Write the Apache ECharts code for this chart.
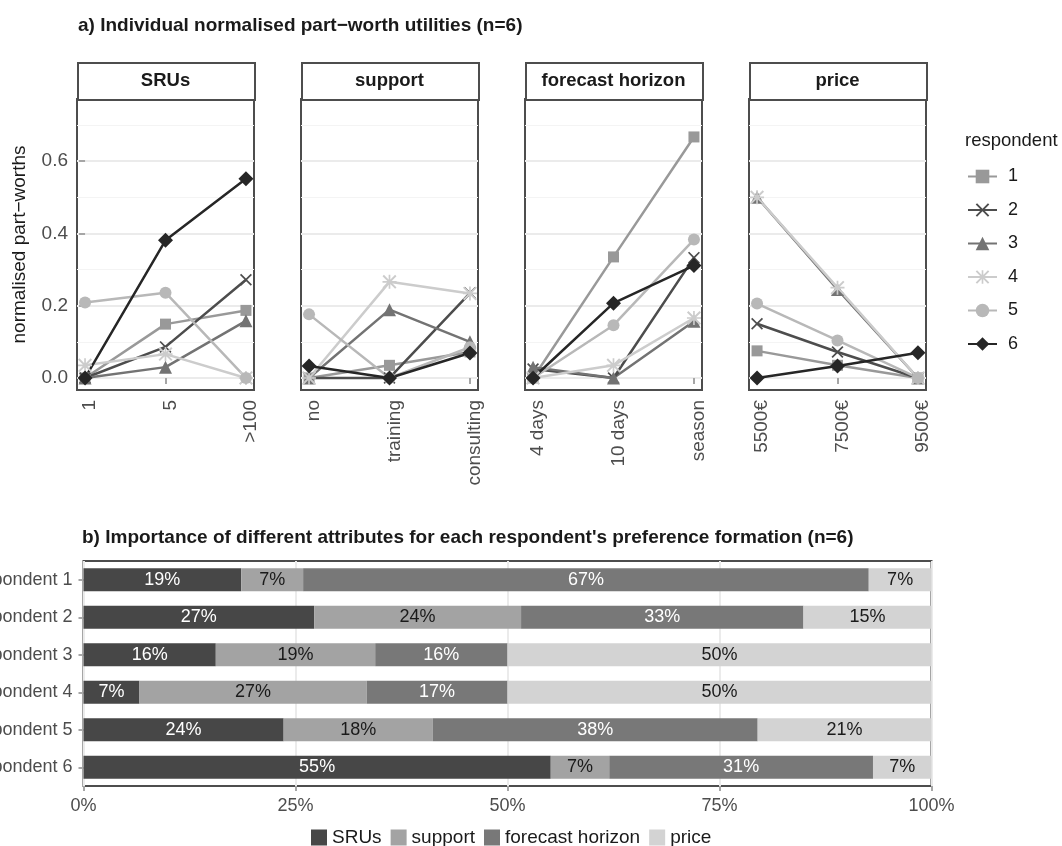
<!DOCTYPE html>
<html>
<head>
<meta charset="utf-8">
<script src="https://cdn.jsdelivr.net/npm/echarts@6/dist/echarts.min.js"></script>
<style>
  html, body { margin: 0; padding: 0; background: #fff; }
  #chart { width: 1062px; height: 846px; }
</style>
</head>
<body>
<div id="chart"></div>
<script>
// ---- a) part-worths ----
const panels = ['SRUs', 'support', 'forecast horizon', 'price'];
const levels = [
  ['1', '5', '>100'],
  ['no', 'training', 'consulting'],
  ['4 days', '10 days', 'season'],
  ['5500€', '7500€', '9500€'],
];
const respondents = ['1', '2', '3', '4', '5', '6'];
// normalised part-worths, one row per panel, one value per level
const pw1 = [[0, 0.149, 0.187], [0, 0.035, 0.072], [0, 0.335, 0.667], [0.075, 0.035, 0]];
const pw2 = [[0, 0.086, 0.272], [0, 0, 0.235], [0.025, 0, 0.333], [0.15, 0.072, 0]];
const pw3 = [[0, 0.03, 0.158], [0, 0.189, 0.1], [0.03, 0, 0.157], [0.5, 0.245, 0]];
const pw4 = [[0.035, 0.066, 0], [0, 0.266, 0.234], [0, 0.035, 0.166], [0.5, 0.25, 0]];
const pw5 = [[0.209, 0.236, 0], [0.176, 0, 0.085], [0, 0.146, 0.383], [0.206, 0.104, 0]];
const pw6 = [[0, 0.381, 0.551], [0.033, 0, 0.069], [0, 0.207, 0.311], [0, 0.033, 0.07]];
const partWorths = [pw1, pw2, pw3, pw4, pw5, pw6];
const yTicks = [0, 0.2, 0.4, 0.6];

// ---- b) importance ----
const barRespondents = ['Respondent 1', 'Respondent 2', 'Respondent 3', 'Respondent 4', 'Respondent 5', 'Respondent 6'];
const attributes = ['SRUs', 'support', 'forecast horizon', 'price'];
const impSRUs = [0.186, 0.272, 0.156, 0.066, 0.236, 0.551];
const impSupport = [0.073, 0.244, 0.188, 0.268, 0.176, 0.069];
const impForecast = [0.667, 0.333, 0.156, 0.166, 0.383, 0.311];
const impPrice = [0.074, 0.151, 0.5, 0.5, 0.205, 0.069];
const importance = [impSRUs, impSupport, impForecast, impPrice];

// styles
const FONT = '"Liberation Sans", Arial, sans-serif';
const crossPath = 'path://M0,1L1,0L5,4L9,0L10,1L6,5L10,9L9,10L5,6L1,10L0,9L4,5Z';
const starPath = 'path://M0,1L1,0L5,4L9,0L10,1L6,5L10,9L9,10L5,6L1,10L0,9L4,5Z M4.4,0L5.6,0L5.6,10L4.4,10Z M0,4.4L10,4.4L10,5.6L0,5.6Z';
const respColors = ['#999999', '#4d4d4d', '#737373', '#cccccc', '#b8b8b8', '#262626'];
const respSymbols = ['rect', crossPath, 'triangle', starPath, 'circle', 'diamond'];
const respSizes = [11, 12, 13, 14, 12, 15];
const barColors = ['#474747', '#a3a3a3', '#787878', '#d3d3d3'];
const barLabelColors = ['#ffffff', '#1a1a1a', '#ffffff', '#1a1a1a'];

const panelLeft = [77, 301, 525, 749];
const panelW = 177, panelTop = 99, panelH = 291;
const stripTop = 62, stripH = 37;

const chart = echarts.init(document.getElementById('chart'));

const grids = panels.map((p, i) => ({
  left: panelLeft[i], top: panelTop, width: panelW, height: panelH,
  show: true, borderColor: '#4d4d4d', borderWidth: 2, outerBoundsMode: 'none'
}));
grids.push({
  left: 83.5, top: 561, width: 848, height: 225,
  show: true, borderColor: '#4d4d4d', borderWidth: 2, outerBoundsMode: 'none'
});

const tickStyle = { color: '#a6a6a6', width: 2 };

const xAxes = panels.map((p, i) => ({
  gridIndex: i, type: 'value', min: -0.1, max: 2.1,
  axisLine: { show: false },
  axisTick: { show: true, customValues: [0, 1, 2], length: 6, lineStyle: tickStyle },
  axisLabel: {
    customValues: [0, 1, 2], rotate: 90, margin: 10,
    verticalAlign: 'top', lineHeight: 10,
    formatter: v => levels[i][Math.round(v)],
    fontSize: 19, color: '#4d4d4d', fontFamily: FONT
  },
  splitLine: { show: false }
}));
xAxes.push({
  gridIndex: 4, type: 'value', min: 0, max: 1, interval: 0.25,
  axisLine: { show: false },
  axisTick: { show: true, length: 5, lineStyle: tickStyle },
  axisLabel: {
    margin: 11, formatter: v => Math.round(v * 100) + '%',
    fontSize: 18, color: '#4d4d4d', fontFamily: FONT
  },
  splitLine: { show: true, lineStyle: { color: '#ebebeb', width: 2 } }
});

const yAxes = panels.map((p, i) => ({
  gridIndex: i, type: 'value', min: -0.0333, max: 0.772, splitNumber: 4,
  axisLine: { show: false },
  axisTick: { show: i === 0, customValues: yTicks, length: 6, lineStyle: tickStyle },
  axisLabel: {
    show: i === 0, customValues: yTicks, margin: 9,
    formatter: v => v.toFixed(1),
    fontSize: 19, color: '#4d4d4d', fontFamily: FONT
  },
  splitLine: { show: true, lineStyle: { color: '#ebebeb', width: 2 } },
  minorTick: { show: false, splitNumber: 2 },
  minorSplitLine: { show: true, lineStyle: { color: '#f4f4f4', width: 1 } },
  name: i === 0 ? 'normalised part−worths' : '',
  nameLocation: 'middle', nameGap: 48, nameRotate: 90,
  nameTextStyle: { fontSize: 19, color: '#1a1a1a', fontFamily: FONT }
}));
yAxes.push({
  gridIndex: 4, type: 'category', inverse: true, data: barRespondents,
  axisLine: { show: false },
  axisTick: { show: true, alignWithLabel: true, length: 5, lineStyle: tickStyle },
  axisLabel: { margin: 11, fontSize: 18, color: '#4d4d4d', fontFamily: FONT },
  splitLine: { show: false }
});

const series = [];
respondents.forEach((r, ri) => {
  panels.forEach((p, pi) => {
    series.push({
      type: 'line', name: r, xAxisIndex: pi, yAxisIndex: pi,
      data: levels[pi].map((lv, li) => [li, partWorths[ri][pi][li]]),
      symbol: respSymbols[ri], symbolSize: respSizes[ri],
      lineStyle: { color: respColors[ri], width: 2.5 },
      itemStyle: { color: respColors[ri] },
      emphasis: { disabled: true }, animation: false
    });
  });
});
attributes.forEach((a, k) => {
  series.push({
    type: 'bar', name: a, stack: 'imp', xAxisIndex: 4, yAxisIndex: 4,
    data: importance[k], barWidth: 23,
    itemStyle: { color: barColors[k] },
    label: {
      show: true, position: 'inside',
      formatter: p => Math.round(p.value * 100) + '%',
      fontSize: 18, color: barLabelColors[k], fontFamily: FONT
    },
    emphasis: { disabled: true }, animation: false
  });
});

const graphics = [];
panels.forEach((p, i) => {
  graphics.push({
    type: 'rect', left: panelLeft[i], top: stripTop,
    shape: { width: panelW, height: stripH },
    style: { fill: '#fff', stroke: '#4d4d4d', lineWidth: 2 }
  });
  graphics.push({
    type: 'text', x: panelLeft[i] + panelW / 2, y: stripTop + stripH / 2,
    style: {
      text: p, fill: '#1a1a1a', font: 'bold 18.5px ' + FONT,
      textAlign: 'center', textVerticalAlign: 'middle'
    }
  });
});
graphics.push({
  type: 'text', x: 965, y: 141,
  style: { text: 'respondent', fill: '#1a1a1a', font: '18.5px ' + FONT, textVerticalAlign: 'middle' }
});

chart.setOption({
  animation: false,
  backgroundColor: '#fff',
  textStyle: { fontFamily: FONT },
  title: [
    {
      text: 'a) Individual normalised part−worth utilities (n=6)', left: 78, top: 16, padding: 0,
      textStyle: { fontSize: 19, fontWeight: 'bold', color: '#1a1a1a', fontFamily: FONT }
    },
    {
      text: "b) Importance of different attributes for each respondent's preference formation (n=6)",
      left: 82, top: 528, padding: 0,
      textStyle: { fontSize: 19, fontWeight: 'bold', color: '#1a1a1a', fontFamily: FONT }
    }
  ],
  legend: [
    {
      data: respondents, orient: 'vertical', left: 967, top: 167.5, padding: 0,
      itemWidth: 29, itemHeight: 17, itemGap: 15.5,
      textStyle: { fontSize: 18, color: '#1a1a1a', fontFamily: FONT, padding: [0, 0, 0, 6] },
      selectedMode: false
    },
    {
      data: attributes, orient: 'horizontal', left: 311, top: 828, padding: 0,
      icon: 'rect', itemWidth: 16, itemHeight: 16, itemGap: 9,
      textStyle: { fontSize: 19, color: '#1a1a1a', fontFamily: FONT },
      selectedMode: false
    }
  ],
  grid: grids,
  xAxis: xAxes,
  yAxis: yAxes,
  series: series,
  graphic: graphics
});
</script>
</body>
</html>
